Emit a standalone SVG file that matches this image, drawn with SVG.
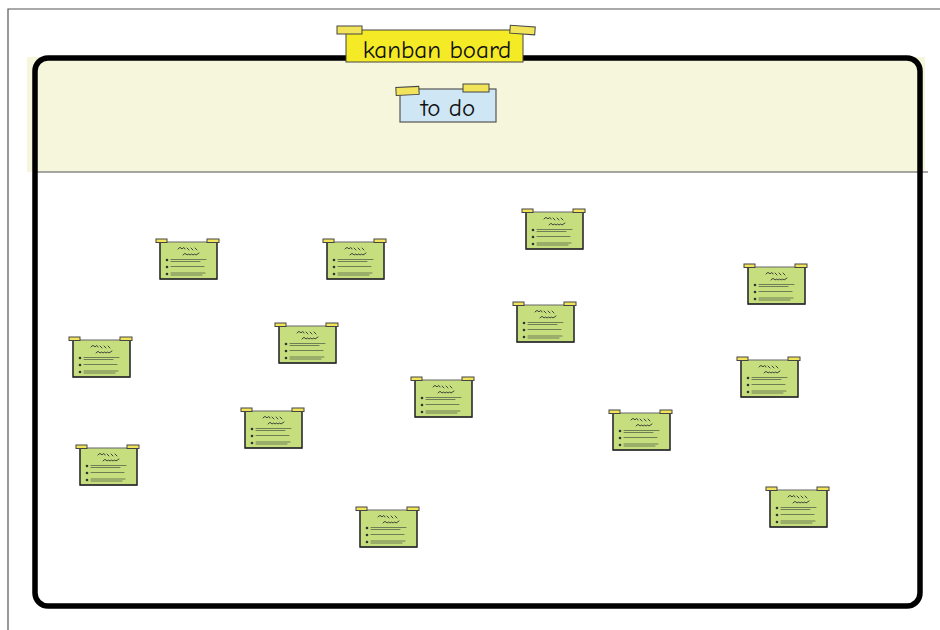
<svg xmlns="http://www.w3.org/2000/svg" xmlns:xlink="http://www.w3.org/1999/xlink" width="940" height="630" viewBox="0 0 940 630">
  <style>
    .frame { fill: none; stroke: #555; stroke-width: 1.2; }
    .board { fill: none; stroke: #000; stroke-width: 5.5; }
    .header { fill: #f6f6dc; }
    .divider { stroke: #888; stroke-width: 1.5; }
    .tape { fill: #f2e45a; stroke: #444; stroke-width: 1; }
    .label { font-family: "Comic Neue", "Liberation Sans", "DejaVu Sans", sans-serif; font-size: 25px; fill: #111; text-anchor: middle; }
    .note { fill: #c6de7e; stroke: #666; stroke-width: 1; }
    .edge { fill: none; stroke: #222; stroke-width: 1.3; }
    .scribble { fill: none; stroke: #333; stroke-width: 0.9; stroke-linecap: round; }
    .rule { fill: none; stroke: #6f7f55; stroke-width: 1.1; stroke-linecap: round; }
    .dot { fill: #333; }
  </style>
  <defs>
    <!-- one sticky note, origin at top-left of the paper -->
    <symbol id="sticky" overflow="visible">
      <rect class="note" x="0" y="0" width="57" height="37"/>
      <path class="edge" d="M0 1 V37 H57 V1"/>
      <rect class="tape" x="-4" y="-3" width="11" height="3.5"/>
      <rect class="tape" x="47" y="-3" width="12" height="3.5"/>
      <path class="scribble" d="M18 7 q2 -3 4 0 q2 -3 3 0 M27 6 l2 2 M31 6 l2 2 M35 6 l2 2"/>
      <path class="scribble" d="M23 13 q2 -3 4 0 q2 -2 3 0 q2 -2 3 0 q2 -2 3 0 l3 -2"/>
      <circle class="dot" cx="7" cy="18" r="1.3"/>
      <circle class="dot" cx="7" cy="25" r="1.3"/>
      <circle class="dot" cx="7" cy="32" r="1.3"/>
      <path class="rule" d="M11 17.5 H46 M11 19.5 H40"/>
      <path class="rule" d="M11 24.5 H44"/>
      <path class="rule" d="M11 31 H45 M11 33 H42"/>
    </symbol>
  </defs>

  <!-- page frame -->
  <path class="frame" d="M8 630 V9 H940"/>

  <!-- board -->
  <g id="board">
    <rect class="header" x="27" y="57" width="898" height="115"/>
    <line class="divider" x1="35" y1="172" x2="928" y2="172"/>
    <rect class="board" x="35" y="58" width="885" height="548" rx="13"/>
  </g>

  <!-- board title -->
  <g id="title">
    <rect x="346" y="30" width="177" height="32" fill="#f5ea26" stroke="#444" stroke-width="1"/>
    <rect class="tape" x="337" y="26" width="25" height="8"/>
    <rect class="tape" x="510" y="26" width="25" height="8" transform="rotate(4 522 30)"/>
    <text class="label" x="437" y="58">kanban board</text>
  </g>

  <!-- column heading -->
  <g id="todo">
    <rect x="400" y="89" width="96" height="33" fill="#cfe6f4" stroke="#555" stroke-width="1.2"/>
    <rect class="tape" x="396" y="87" width="23" height="8" transform="rotate(-3 407 91)"/>
    <rect class="tape" x="463" y="84" width="26" height="8"/>
    <text class="label" x="448" y="116" font-size="23">to do</text>
  </g>

  <!-- cards -->
  <g id="card-1"><use xlink:href="#sticky" x="160" y="242"/></g>
  <g id="card-2"><use xlink:href="#sticky" x="327" y="242"/></g>
  <g id="card-3"><use xlink:href="#sticky" x="526" y="212"/></g>
  <g id="card-4"><use xlink:href="#sticky" x="748" y="267"/></g>
  <g id="card-5"><use xlink:href="#sticky" x="73" y="340"/></g>
  <g id="card-6"><use xlink:href="#sticky" x="279" y="326"/></g>
  <g id="card-7"><use xlink:href="#sticky" x="517" y="305"/></g>
  <g id="card-8"><use xlink:href="#sticky" x="741" y="360"/></g>
  <g id="card-9"><use xlink:href="#sticky" x="415" y="380"/></g>
  <g id="card-10"><use xlink:href="#sticky" x="245" y="411"/></g>
  <g id="card-11"><use xlink:href="#sticky" x="613" y="413"/></g>
  <g id="card-12"><use xlink:href="#sticky" x="80" y="448"/></g>
  <g id="card-13"><use xlink:href="#sticky" x="360" y="510"/></g>
  <g id="card-14"><use xlink:href="#sticky" x="770" y="490"/></g>

  <!-- no connectors on this board -->
  <g id="connectors"/>
</svg>
